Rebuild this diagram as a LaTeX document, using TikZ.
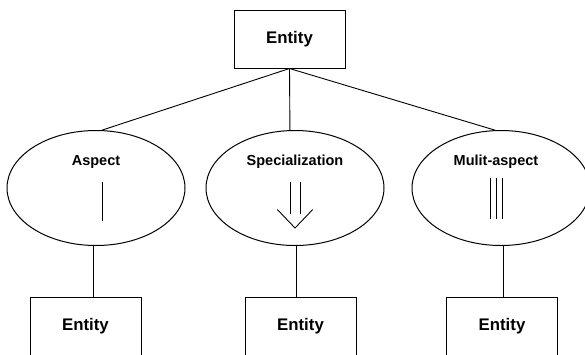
\documentclass[tikz,border=0pt]{standalone}
\usepackage{fontspec}
\setmainfont{Liberation Sans}
\usetikzlibrary{shapes.geometric}
\begin{document}
\begin{tikzpicture}[x=1pt,y=-1pt,line width=1pt,
  entitybox/.style={draw,rectangle,minimum width=111pt,minimum height=58pt,inner sep=0pt,
    font=\fontsize{16.8}{20}\selectfont\bfseries},
  kindoval/.style={draw,ellipse,minimum width=178pt,minimum height=115pt,inner sep=0pt},
  kindlabel/.style={anchor=base,inner sep=0pt,font=\fontsize{14.5}{17}\selectfont\bfseries},
  link/.style={draw,line width=0.9pt}]
\useasboundingbox (0,0) rectangle (585,354);

% root entity
\node[entitybox] (root) at (289.5,39) {Entity};

% relationship kinds
\node[kindoval] (asp)  at (96,188)  {};
\node[kindoval] (spec) at (295,188) {};
\node[kindoval] (ma)   at (501,188) {};
\node[kindlabel] (asplbl)  at (96,165)  {Aspect};
\node[kindlabel] (speclbl) at (295,165) {Specialization};
\node[kindlabel] (malbl)   at (496,165) {Mulit-aspect};

% child entities
\node[entitybox] (e1) at (85.5,326) {Entity};
\node[entitybox] (e2) at (300.5,326) {Entity};
\node[entitybox] (e3) at (502,326) {Entity};

% connectors
\draw[link] (root.south) -- (asp.84);
\draw[link] (root.south) -- (spec.95);
\draw[link] (root.south) -- (ma.96);
\draw[link] (asp.-93) -- (asp.-93 |- e1.north);
\draw[link] (spec.-89) -- (spec.-89 |- e2.north);
\draw[link] (ma.-88) -- (ma.-88 |- e3.north);

% aspect symbol: single bar
\draw[line width=0.9pt] (102,182) -- (102,221);
% specialization symbol: open double arrow
\draw[line width=0.9pt] (290,182) -- (290,214);
\draw[line width=0.9pt] (300.5,182) -- (300.5,214);
\draw[line width=0.9pt] (277.3,209.5) -- (295,228) -- (312.7,209.5);
% multi-aspect symbol: triple bar
\draw[line width=0.9pt] (490.7,177.5) -- (490.7,218.5);
\draw[line width=0.9pt] (496.3,177.5) -- (496.3,218.5);
\draw[line width=0.9pt] (502.3,177.5) -- (502.3,218.5);
\end{tikzpicture}
\end{document}
